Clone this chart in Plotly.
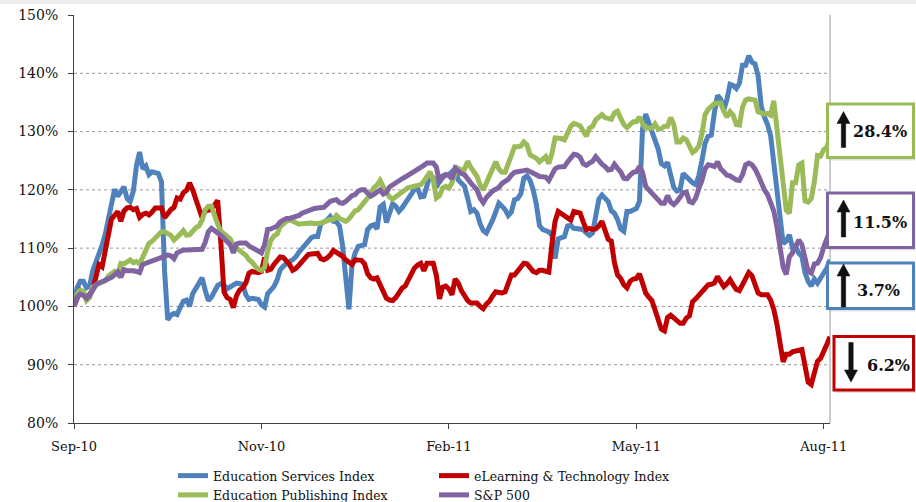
import plotly.graph_objects as go

# ---------------- data ----------------
x_tick_labels = ["Sep-10", "Nov-10", "Feb-11", "May-11", "Aug-11"]
x_tick_positions = [0, 60, 120, 180, 240]
y_tick_values = [80, 90, 100, 110, 120, 130, 140, 150]
y_tick_labels = ["80%", "90%", "100%", "110%", "120%", "130%", "140%", "150%"]

series_names = ["Education Services Index", "eLearning & Technology Index",
                "Education Publishing Index", "S&P 500"]

edu_services = [
    100, 103.2, 104.3, 104.3, 103.2, 103.5, 106.1, 107.4, 108.8, 110.5,
    112.4, 114.8, 118.0, 120.1, 118.9, 119.8, 120.5, 118.5, 118.0, 119.8,
    124.2, 126.5, 123.6, 124.1, 122.6, 123.1, 123.0, 122.8, 121.4, 106.0,
    97.7, 98.5, 98.8, 98.6, 99.8, 100.9, 101.1, 100.0, 102.2, 103.1,
    103.6, 104.9, 102.8, 101.0, 101.6, 102.7, 103.6, 103.9, 103.7, 103.0,
    103.4, 103.7, 104.0, 103.9, 103.8, 102.0, 101.2, 101.4, 101.4, 101.2,
    100.3, 99.9, 102.2, 102.9, 103.4, 104.5, 106.3, 106.9, 107.4, 107.7,
    108.0, 108.5, 109.3, 110.0, 110.7, 111.3, 111.8, 112.0, 112.0, 114.2,
    114.4, 114.8, 115.4, 114.6, 114.5, 113.8, 110.3, 104.0, 99.5, 107.2,
    109.2, 110.3, 110.4, 110.6, 113.2, 113.8, 114.0, 113.3, 117.1, 117.5,
    114.4, 115.8, 117.6, 117.2, 116.3, 116.9, 117.7, 118.5, 119.4, 120.1,
    120.3, 118.8, 118.9, 121.2, 122.6, 122.1, 120.4, 121.5, 122.2, 122.6,
    122.6, 123.1, 123.6, 121.7, 121.2, 120.6, 118.6, 116.3, 116.6, 116.0,
    114.2, 113.0, 112.6, 113.5, 114.8, 116.2, 117.7, 117.2, 116.6, 115.6,
    116.2, 118.3, 118.5, 119.3, 122.0, 122.4, 121.6, 120.0, 117.5, 113.9,
    113.2, 113.0, 112.8, 112.2, 108.2, 111.6, 111.8, 112.0, 113.8, 113.9,
    113.4, 113.4, 113.4, 113.2, 112.6, 112.2, 112.6, 115.5, 118.4, 119.1,
    118.6, 118.0, 116.4, 116.0, 114.9, 113.3, 112.9, 116.3, 116.3, 116.6,
    116.8, 118.0, 130.5, 133.0, 131.6, 129.6, 128.6, 127.0, 124.5, 124.1,
    124.7, 122.0, 120.4, 119.8, 120.0, 122.8, 122.2, 121.6, 121.2, 120.9,
    122.4, 125.0, 128.0, 129.2, 129.4, 133.3, 136.2, 135.6, 133.7, 135.5,
    138.1, 137.9, 137.4, 138.3, 141.4, 141.4, 143.0, 141.9, 141.6, 139.5,
    134.3, 132.5, 131.2, 129.3, 124.7, 121.4, 116.2, 110.8, 111.2, 112.3,
    110.0, 110.3, 109.1, 108.6, 105.8, 104.3, 103.5, 104.7, 104.0, 104.9,
    105.5, 106.6, 108.0,
]

elearning = [
    100, 101.5, 102.7, 102.2, 101.7, 102.0, 103.0, 105.0, 107.2, 106.8,
    109.5, 112.5, 115.0, 115.6, 116.3, 114.6, 116.4, 116.9, 117.0, 116.6,
    116.8, 115.3, 115.8, 116.0, 115.7, 116.2, 116.9, 116.9, 116.9, 115.2,
    116.1, 116.6, 117.0, 118.6, 118.4, 119.5, 119.9, 121.2, 120.0, 118.2,
    116.5, 115.2, 116.4, 116.4, 116.6, 117.4, 118.2, 111.0, 102.5, 101.5,
    101.2, 99.8, 101.8, 102.8, 103.2, 104.0, 105.7, 106.0, 105.8, 105.8,
    106.0, 108.4, 106.2, 106.4, 107.2, 107.8, 108.5, 108.4, 107.8, 107.2,
    106.2, 106.5, 107.1, 107.8, 108.3, 108.9, 109.0, 109.1, 109.1, 108.2,
    108.0, 108.3, 108.8, 109.6, 109.3, 108.8, 108.6, 108.0, 107.5, 107.2,
    108.0, 108.0, 107.9, 107.3, 105.6, 104.9, 104.7, 104.9, 103.8, 102.6,
    101.4, 101.1, 101.0, 101.5, 102.3, 103.1, 103.5, 104.6, 105.6, 106.6,
    107.1, 107.4, 106.1, 107.4, 107.4, 107.4, 105.3, 101.3, 103.3, 103.5,
    103.0, 102.0, 104.7, 104.0, 102.7, 101.8, 101.0, 100.6, 100.6, 100.6,
    100.0, 99.6, 100.4, 100.9, 101.8, 102.5, 102.4, 102.3, 102.5, 103.8,
    105.4, 105.4, 106.0, 106.8, 107.4, 107.3, 106.6, 106.0, 105.8, 106.2,
    106.2, 106.0, 105.9, 110.8, 114.6, 116.3, 115.9, 115.6, 115.2, 114.8,
    116.3, 116.1, 116.0, 114.5, 113.2, 113.4, 113.2, 113.3, 113.8, 114.6,
    113.0, 111.5, 111.2, 107.5, 105.4, 104.8, 103.7, 103.2, 104.3, 104.7,
    104.8, 105.6, 104.0, 102.3, 101.6, 101.0, 99.4, 97.8, 96.1, 95.8,
    98.1, 98.5, 98.1, 97.6, 97.1, 97.1, 98.0, 98.4, 100.8, 101.3,
    101.9, 102.7, 103.3, 103.7, 103.8, 104.0, 105.1, 104.2, 103.4, 103.9,
    104.6, 103.7, 102.9, 102.7, 103.7, 104.7, 105.8, 105.3, 104.0, 102.3,
    102.0, 102.0, 102.0, 101.1, 99.5, 97.0, 93.4, 90.5, 91.8, 91.8,
    92.2, 92.3, 92.3, 92.6, 89.8, 87.0, 86.6, 88.6, 90.6, 91.1,
    92.6, 93.5, 94.8,
]

edu_publishing = [
    100, 102.2, 102.8, 102.6, 101.0, 101.5, 103.3, 103.7, 104.0, 104.2,
    104.4, 105.2, 105.6, 106.0, 105.5, 107.4, 107.3, 107.6, 108.0, 107.5,
    107.7, 107.3, 108.5, 109.6, 110.8, 111.2, 111.8, 112.1, 112.8, 112.8,
    112.6, 112.2, 111.4, 111.8, 112.4, 113.0, 112.2, 112.3, 113.0, 113.5,
    113.8, 114.8, 116.6, 117.2, 117.2, 115.3, 114.1, 112.9, 112.4, 112.0,
    111.6, 110.4, 110.0, 109.6, 109.2, 108.8, 108.0, 107.6, 106.9, 106.4,
    106.2, 106.7, 109.5, 111.3, 112.1, 112.4, 113.7, 114.2, 114.6, 114.9,
    114.6, 114.2, 114.1, 114.2, 114.3, 114.3, 114.3, 114.2, 114.2, 114.3,
    114.5, 114.8, 114.9, 114.9, 115.6, 115.1, 114.8, 114.6, 115.0, 115.7,
    116.4, 116.6, 117.3, 118.0, 118.8, 119.3, 120.4, 120.8, 121.6, 120.4,
    119.5, 118.8, 118.4, 118.8, 119.2, 119.6, 120.0, 120.4, 120.5, 120.7,
    120.8, 120.9, 121.5, 122.5, 123.1, 121.7, 118.6, 119.0, 120.3, 120.6,
    120.3, 121.2, 122.8, 123.7, 123.4, 123.5, 124.9, 123.9, 123.1, 122.3,
    120.8, 120.0, 121.2, 122.3, 123.5, 124.8, 123.6, 123.0, 123.0, 124.4,
    125.9, 127.4, 127.4, 127.5, 128.2, 127.7, 126.0, 125.8, 125.4, 124.8,
    125.3, 125.7, 124.5, 126.3, 128.9, 128.9, 128.8, 128.6, 129.9, 130.9,
    131.4, 131.3, 131.0, 130.1, 129.2, 130.6, 130.9, 132.0, 132.6, 132.9,
    132.4, 132.2, 132.1, 133.2, 133.5, 132.3, 131.2, 130.7, 131.1, 131.7,
    131.7, 132.5, 131.4, 130.6, 130.6, 130.6, 131.3, 130.4, 130.5, 130.9,
    130.9, 132.4, 131.2, 128.2, 128.2, 128.9, 128.6, 127.3, 126.4, 126.8,
    127.5, 129.6, 132.9, 133.8, 134.2, 134.8, 134.9, 134.9, 133.5, 132.5,
    133.4, 132.8, 131.2, 131.1, 134.2, 135.4, 135.6, 135.4, 135.4, 133.4,
    133.2, 133.0, 133.1, 132.8, 135.3, 130.2, 124.9, 119.8, 116.5, 116.0,
    121.2, 121.2, 124.3, 124.6, 118.1, 117.9, 118.5, 121.4, 125.9, 125.8,
    126.9, 127.3, 129.1,
]

sp500 = [
    100, 101.6, 102.1, 101.9, 101.4, 101.9, 102.8, 103.7, 104.0, 104.2,
    104.5, 104.8, 105.0, 105.4, 105.9, 105.0, 106.3, 106.1, 106.2, 106.1,
    106.0, 105.8, 107.2, 107.4, 107.5, 107.6, 107.8, 108.0, 108.3, 108.5,
    108.8, 108.7, 108.2, 109.2, 109.5, 109.7, 109.7, 109.7, 109.6, 109.6,
    109.7, 109.8, 111.0, 112.8, 113.4, 113.1, 112.6, 112.2, 111.7, 111.2,
    110.6, 109.2, 110.7, 110.9, 110.9, 110.9, 110.4, 110.1, 109.7, 109.5,
    109.2, 110.6, 113.2, 113.3, 113.5, 113.8, 114.5, 114.9, 115.1, 115.1,
    115.2, 115.5, 115.6, 116.0, 116.2, 116.6, 116.7, 116.8, 116.9, 116.9,
    117.0, 117.5, 118.0, 118.2, 118.3, 117.8, 117.7, 118.0, 118.6, 119.0,
    119.2, 119.8, 120.0, 120.0, 119.4, 118.9, 119.2, 119.6, 120.0, 119.3,
    119.6, 120.5, 120.9, 121.3, 121.5, 121.9, 122.2, 122.5, 122.9, 123.2,
    123.4, 123.9, 124.2, 124.6, 124.6, 124.6, 123.9, 121.3, 122.4, 122.6,
    122.5, 121.9, 123.7, 123.2, 122.8, 122.6, 121.8, 121.2, 120.6, 120.0,
    118.6, 117.8, 118.7, 119.3, 119.8, 120.1, 120.4, 121.1, 121.4, 121.8,
    122.5, 123.0, 123.1, 123.1, 123.3, 123.4, 123.2, 123.0, 122.6, 122.3,
    122.2, 122.2, 121.6, 122.6, 123.6, 123.9, 124.0, 124.0, 124.8, 125.6,
    126.1, 126.0, 125.6, 124.5, 124.2, 124.6, 124.9, 125.7, 125.0, 124.4,
    124.0, 123.4, 123.5, 124.4, 123.7, 123.1, 122.0, 121.9, 122.5, 123.0,
    123.1, 124.0, 123.0, 120.6, 120.0, 119.4, 118.9, 118.2, 117.7, 117.7,
    119.0, 117.9, 117.5, 118.0, 118.6, 119.5, 119.6, 118.0, 117.8, 118.6,
    120.2, 121.6, 123.6, 124.3, 124.2, 124.0, 124.8, 123.6, 123.1, 122.5,
    122.4, 122.0, 121.7, 121.6, 122.6, 124.3, 124.6, 124.3, 123.6, 122.5,
    121.2, 120.0, 119.2, 118.0, 116.4, 113.7, 110.0, 106.7, 105.5, 108.5,
    109.2, 110.4, 111.4, 110.6, 108.6, 106.0, 105.7, 107.3, 107.4, 108.4,
    110.2, 111.8, 113.0,
]

change_labels = ["28.4%", "11.5%", "3.7%", "6.2%"]
change_up = [True, True, True, False]

# ---------------- styling ----------------
colors = ["#4F81BD", "#C00000", "#9BBB59", "#8064A2"]
box_colors = ["#9BBB59", "#8064A2", "#4F81BD", "#C00000"]

W, H = 916, 502
ML, MR, MT, MB = 74, 86, 15, 79
PW, PH = W - ML - MR, H - MT - MB


def px(x):
    return (x - ML) / PW


def py(y):
    return (H - MB - y) / PH


fig = go.Figure()
all_series = [edu_services, elearning, edu_publishing, sp500]
for name, vals, col in zip(series_names, all_series, colors):
    fig.add_trace(go.Scatter(
        x=list(range(len(vals))), y=vals, mode="lines", name=name,
        line=dict(color=col, width=5),
        hoverinfo="skip",
    ))

shapes = []
# horizontal dotted gridlines
for v in y_tick_values[1:-1]:
    shapes.append(dict(type="line", xref="paper", yref="y", x0=0, x1=1, y0=v, y1=v,
                       line=dict(color="#9a9a9a", width=1, dash="dot"), layer="below"))
# right border of plot area
shapes.append(dict(type="line", xref="paper", yref="paper", x0=1, x1=1, y0=0, y1=1,
                   line=dict(color="#9a9a9a", width=1), layer="below"))
# faint shadow strip at the top
shapes.append(dict(type="rect", xref="paper", yref="paper", x0=px(0), x1=px(W),
                   y0=py(4), y1=py(0), fillcolor="#eeeeee", line=dict(width=0)))

# callout boxes (pixel boxes: x0, x1, y0, y1)
boxes = [(827.5, 913.5, 104, 157.5), (827.5, 913.5, 193, 247.5),
         (827.5, 913.5, 263, 308.5), (834, 913.5, 336.5, 390)]
arrows = [(843.5, 111.5, 147.5), (843.5, 200, 237), (843.5, 264, 307), (851, 342.5, 382)]
text_pos = [(880, 131.5), (880, 222), (878.5, 290), (888, 365)]

annotations = []
for (x0, x1, y0, y1), col, (ax, a0, a1), up, lab, (tx, ty) in zip(
        boxes, box_colors, arrows, change_up, change_labels, text_pos):
    shapes.append(dict(type="rect", xref="paper", yref="paper",
                       x0=px(x0 + 2), x1=px(x1 + 2), y0=py(y1 + 3), y1=py(y0 + 3),
                       fillcolor="rgba(0,0,0,0.12)", line=dict(width=0), layer="above"))
    shapes.append(dict(type="rect", xref="paper", yref="paper",
                       x0=px(x0), x1=px(x1), y0=py(y1), y1=py(y0),
                       fillcolor="white", line=dict(color=col, width=3), layer="above"))
    hh, hw, sw = 12, 6.5, 2.2
    if up:
        tip, tail, d = a0, a1, 1
    else:
        tip, tail, d = a1, a0, -1
    pts = [(ax, tip), (ax + hw, tip + d * hh), (ax + sw, tip + d * hh), (ax + sw, tail),
           (ax - sw, tail), (ax - sw, tip + d * hh), (ax - hw, tip + d * hh)]
    path = "M " + " L ".join(f"{px(a):.5f},{py(b):.5f}" for a, b in pts) + " Z"
    shapes.append(dict(type="path", xref="paper", yref="paper", path=path,
                       fillcolor="#111111", line=dict(color="#111111", width=0.5), layer="above"))
    annotations.append(dict(xref="paper", yref="paper", x=px(tx), y=py(ty), text=f"<b>{lab}</b>",
                            showarrow=False, xanchor="center", yanchor="middle",
                            font=dict(family="DejaVu Serif", size=16, color="#111111")))

fig.update_layout(
    width=W, height=H,
    margin=dict(l=ML, r=MR, t=MT, b=MB, pad=0, autoexpand=False),
    paper_bgcolor="white", plot_bgcolor="white",
    showlegend=True,
    legend=dict(orientation="h", x=px(173), xanchor="left", y=py(461), yanchor="top",
                entrywidth=216, entrywidthmode="pixels", itemwidth=30,
                font=dict(family="DejaVu Serif", size=12.5, color="#111111"),
                bgcolor="rgba(0,0,0,0)", tracegroupgap=0),
    xaxis=dict(range=[0, len(edu_services) - 1], tickmode="array",
               tickvals=x_tick_positions, ticktext=x_tick_labels, automargin=False,
               showgrid=False, zeroline=False, showline=True, linecolor="#404040", linewidth=1,
               ticks="outside", ticklen=5, tickcolor="#404040", ticklabelstandoff=6,
               tickfont=dict(family="DejaVu Serif", size=13, color="#111111")),
    yaxis=dict(range=[80, 150], tickmode="array", tickvals=y_tick_values, ticktext=y_tick_labels,
               automargin=False, showgrid=False, zeroline=False, showline=True,
               linecolor="#404040", linewidth=1, ticks="outside", ticklen=5, tickcolor="#404040",
               ticklabelstandoff=7,
               tickfont=dict(family="DejaVu Serif", size=14, color="#111111")),
    shapes=shapes, annotations=annotations,
)

fig.write_html("out.html", config={"displayModeBar": False},
               post_script="document.body.style.margin='0';")
